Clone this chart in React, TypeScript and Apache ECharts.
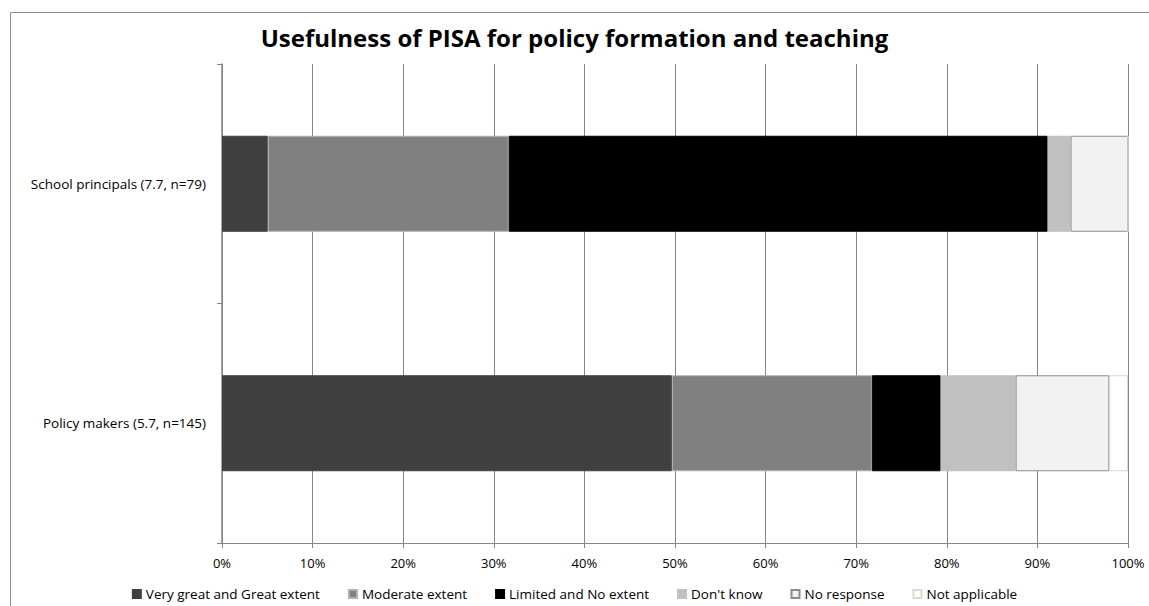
import React, { useEffect, useRef } from "react";
import * as echarts from "echarts";

const categories = ["Policy makers (5.7, n=145)", "School principals (7.7, n=79)"];
const seriesNames = [
  "Very great and Great extent",
  "Moderate extent",
  "Limited and No extent",
  "Don't know",
  "No response",
  "Not applicable",
];
// percentages, [Policy makers, School principals]
const veryGreat = [49.66, 5.06];
const moderate = [22.07, 26.58];
const limited = [7.59, 59.49];
const dontKnow = [8.28, 2.53];
const noResponse = [10.34, 6.34];
const notApplicable = [2.06, 0];
const xTicks = [0, 10, 20, 30, 40, 50, 60, 70, 80, 90, 100];

const colors = ["#404040", "#808080", "#000000", "#c0c0c0", "#f2f2f2", "#ffffff"];
const borders = ["#404040", "#b0b0b0", "#000000", "#c0c0c0", "#8c8c8c", "#d9d9d9"];

const FONT = "'Open Sans', 'DejaVu Sans', sans-serif";

export default function App() {
  const ref = useRef<HTMLDivElement>(null);
  useEffect(() => {
    if (!ref.current) return;
    const chart = echarts.init(ref.current, undefined, { renderer: "svg" });
    const values = [veryGreat, moderate, limited, dontKnow, noResponse, notApplicable];
    chart.setOption({
      animation: false,
      textStyle: { fontFamily: FONT },
      title: {
        text: "Usefulness of PISA for policy formation and teaching",
        left: "center",
        top: 20,
        textStyle: { fontFamily: FONT, fontSize: 24, fontWeight: "bold", color: "#000" },
      },
      graphic: [
        {
          type: "rect",
          shape: { x: 10.5, y: 12.5, width: 1200, height: 700 },
          style: { fill: "none", stroke: "#8c8c8c", lineWidth: 1 },
          silent: true,
          z: -10,
        },
      ],
      legend: {
        bottom: 0,
        left: "center",
        itemWidth: 8,
        itemHeight: 8,
        itemGap: 28,
        icon: "rect",
        textStyle: { fontFamily: FONT, fontSize: 13.5, color: "#000" },
        data: seriesNames,
      },
      grid: { left: 222, right: 21, top: 64, bottom: 63 },
      xAxis: {
        type: "value",
        min: xTicks[0],
        max: xTicks[xTicks.length - 1],
        interval: 10,
        axisLine: { show: true, lineStyle: { color: "#868686", width: 1 } },
        axisTick: { show: true, length: 5, lineStyle: { color: "#868686" } },
        splitLine: { show: true, lineStyle: { color: "#868686", width: 1 } },
        axisLabel: {
          formatter: (v: number) => v + "%",
          fontFamily: FONT,
          fontSize: 13,
          color: "#000",
          margin: 13,
        },
      },
      yAxis: {
        type: "category",
        data: categories,
        axisLine: { show: true, lineStyle: { color: "#868686", width: 1.5 } },
        axisTick: { show: true, length: 5, lineStyle: { color: "#868686" } },
        axisLabel: { fontFamily: FONT, fontSize: 13.5, color: "#000", margin: 16 },
      },
      series: seriesNames.map((name, i) => ({
        name,
        type: "bar",
        stack: "total",
        barWidth: 96,
        data: values[i],
        itemStyle: { color: colors[i], borderColor: borders[i], borderWidth: 1 },
      })),
    });
    return () => chart.dispose();
  }, []);
  return (
    <div
      ref={ref}
      style={{ position: "fixed", left: 0, top: 0, width: 1149, height: 606, background: "#fff" }}
    />
  );
}
